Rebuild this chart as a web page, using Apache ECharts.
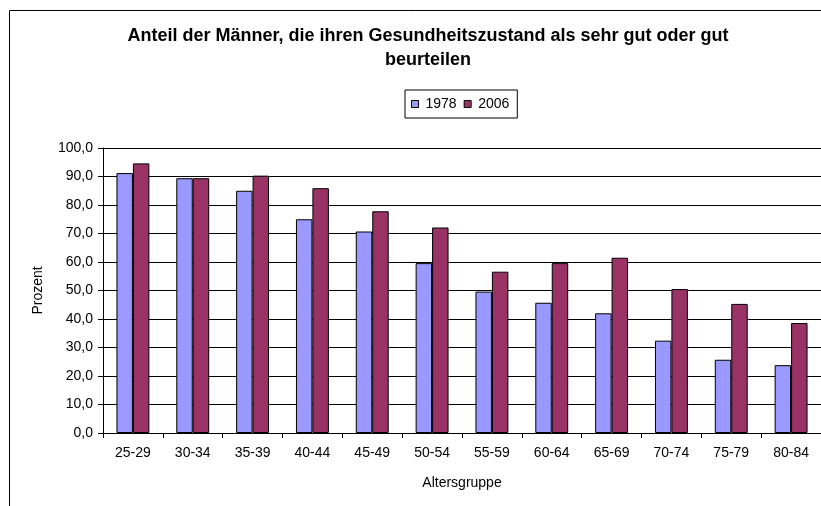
<!DOCTYPE html>
<html>
<head>
<meta charset="utf-8">
<script src="https://cdn.jsdelivr.net/npm/echarts@6/dist/echarts.min.js"></script>
<style>
  html, body { margin: 0; padding: 0; background: #fff; }
  #container { width: 821px; height: 506px; }
</style>
</head>
<body>
<div id="container"></div>
<script>
var ageGroups = ['25-29', '30-34', '35-39', '40-44', '45-49', '50-54', '55-59', '60-64', '65-69', '70-74', '75-79', '80-84'];
var values1978 = [91.2, 89.4, 85.0, 75.0, 70.7, 59.6, 49.6, 45.7, 42.0, 32.4, 25.7, 23.8];
var values2006 = [94.6, 89.4, 90.3, 85.9, 77.8, 72.1, 56.6, 59.6, 61.5, 50.5, 45.3, 38.6];
var seriesNames = ['1978', '2006'];

var font = 'Liberation Sans, Arial, sans-serif';
var dom = document.getElementById('container');
var myChart = echarts.init(dom, null, { renderer: 'canvas' });

var option = {
    backgroundColor: '#fff',
    animation: false,
    textStyle: { fontFamily: font, color: '#000' },
    title: {
        text: 'Anteil der Männer, die ihren Gesundheitszustand als sehr gut oder gut\nbeurteilen',
        left: 423,
        top: 19,
        textAlign: 'center',
        textStyle: {
            fontFamily: font,
            fontSize: 18,
            fontWeight: 'bold',
            color: '#000',
            lineHeight: 24
        }
    },
    legend: {
        data: seriesNames,
        left: 405,
        top: 90,
        itemWidth: 7,
        itemHeight: 7,
        itemGap: 7,
        icon: 'rect',
        padding: [7, 8, 7, 6],
        borderColor: '#000',
        borderWidth: 1,
        textStyle: { fontFamily: font, fontSize: 14, color: '#000', padding: [0, 0, 0, 2] },
        itemStyle: { borderColor: '#000', borderWidth: 1 }
    },
    graphic: [{
        type: 'rect',
        shape: { x: 9.5, y: 10.5, width: 900, height: 600 },
        style: { fill: 'none', stroke: '#000', lineWidth: 1 },
        silent: true
    }],
    grid: {
        left: 103,
        right: 0,
        top: 148,
        bottom: 73,
        containLabel: false
    },
    xAxis: {
        type: 'category',
        data: ageGroups,
        name: 'Altersgruppe',
        nameLocation: 'middle',
        nameGap: 43,
        nameTextStyle: { fontFamily: font, fontSize: 14, color: '#000' },
        axisLine: { lineStyle: { color: '#000', width: 1 } },
        axisTick: { show: true, length: 5, interval: 0, lineStyle: { color: '#000' } },
        axisLabel: { fontFamily: font, fontSize: 14, color: '#000', margin: 13, interval: 0 }
    },
    yAxis: {
        type: 'value',
        min: 0,
        max: 100,
        interval: 10,
        name: 'Prozent',
        nameLocation: 'middle',
        nameGap: 58,
        nameRotate: 90,
        nameTextStyle: { fontFamily: font, fontSize: 14, color: '#000' },
        axisLine: { show: true, lineStyle: { color: '#000', width: 1 } },
        axisTick: { show: true, length: 5, lineStyle: { color: '#000' } },
        axisLabel: {
            fontFamily: font,
            fontSize: 14,
            color: '#000',
            margin: 10,
            formatter: function (v) {
                return v.toFixed(1).replace('.', ',');
            }
        },
        splitLine: { show: true, lineStyle: { color: '#000', width: 1 } }
    },
    series: [{
        name: seriesNames[0],
        type: 'bar',
        data: values1978,
        barGap: '0%',
        barCategoryGap: '45%',
        itemStyle: { color: '#9999FF', borderColor: '#000', borderWidth: 1 }
    }, {
        name: seriesNames[1],
        type: 'bar',
        data: values2006,
        barGap: '0%',
        barCategoryGap: '45%',
        itemStyle: { color: '#993366', borderColor: '#000', borderWidth: 1 }
    }]
};

myChart.setOption(option);
</script>
</body>
</html>
